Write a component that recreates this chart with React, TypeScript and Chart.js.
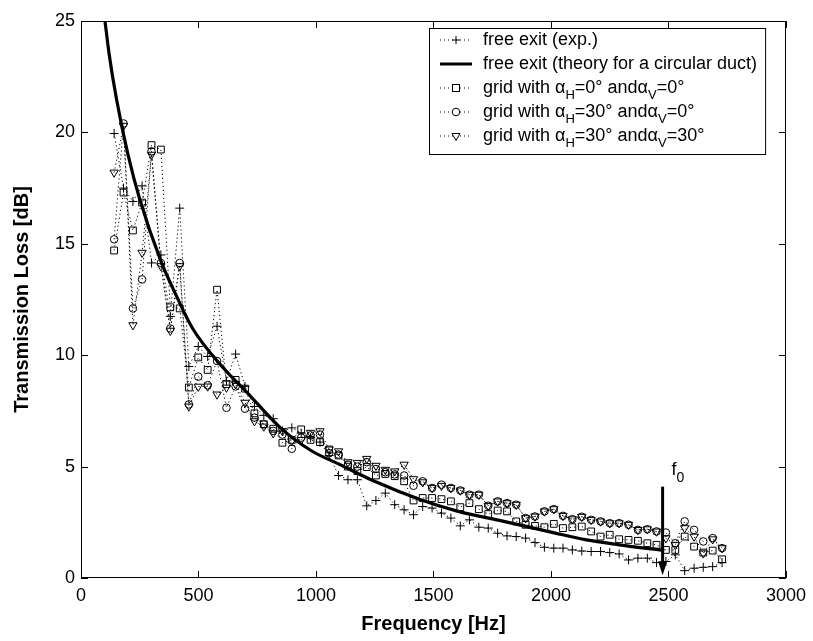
import React, { useEffect, useRef } from "react";
import { Chart, registerables } from "chart.js";
Chart.register(...registerables);

const freqs = [141,181,221,260,300,340,380,420,459,499,539,579,619,658,698,738,778,818,857,897,937,977,1017,1056,1096,1136,1176,1216,1255,1295,1335,1375,1415,1454,1494,1534,1574,1614,1653,1693,1733,1773,1813,1852,1892,1932,1972,2012,2051,2091,2131,2171,2211,2250,2290,2330,2370,2410,2449,2489,2529,2569,2609,2648,2688,2728];

const freeExitExp = [19.95,17.5,16.9,17.6,14.14,14.5,11.74,16.6,9.49,10.39,9.94,11.3,8.84,10.05,8.6,7.7,7.3,7.15,6.6,6.74,6.5,6.3,6.1,5.5,4.6,4.41,4.41,3.24,3.48,3.81,3.29,3.06,2.84,3.21,3.14,2.91,2.69,2.34,2.61,2.28,2.24,2.01,1.89,1.86,1.79,1.59,1.38,1.34,1.34,1.26,1.21,1.19,1.19,1.14,1.08,0.81,0.89,0.89,0.69,0.74,1.04,0.33,0.44,0.48,0.51,0.69];

const gridH0V0 = [14.7,17.3,15.6,16.85,19.43,19.23,12.15,12.1,8.55,9.9,9.34,12.94,8.7,8.89,8.5,7.39,6.9,6.7,6.07,6.2,6.67,6.2,6.1,5.77,5.5,5.0,4.8,4.98,4.6,4.67,4.57,4.34,3.48,3.59,3.59,3.54,3.44,3.18,3.36,3.09,2.87,3.03,2.99,2.54,2.39,2.34,2.28,2.43,2.24,2.28,2.31,2.09,1.86,1.94,1.74,1.71,1.67,1.56,1.49,1.26,1.26,1.86,1.41,1.14,1.23,0.84];

const gridH30V0 = [15.2,20.4,12.1,13.4,19.15,14.14,11.2,14.14,7.79,9.04,8.65,9.74,7.64,8.6,7.6,7.2,6.9,6.6,6.44,5.8,6.3,6.4,6.44,5.6,5.54,5.09,5.0,5.2,4.89,4.75,4.65,4.6,4.14,4.34,4.04,4.19,4.04,3.93,3.74,3.74,3.24,3.44,3.36,3.29,2.69,2.76,2.99,3.09,2.79,2.64,2.75,2.61,2.54,2.46,2.46,2.39,2.16,2.19,2.09,2.04,1.56,2.54,2.16,1.64,1.79,1.34];

const gridH30V30 = [18.2,20.3,11.35,14.6,19.0,14.0,11.1,14.0,7.7,8.59,8.6,8.24,8.55,8.7,7.87,7.04,6.8,6.5,6.6,6.14,6.2,6.52,6.59,5.77,5.69,5.2,5.17,5.35,5.04,4.86,4.79,5.09,4.44,4.3,4.04,4.14,4.04,3.93,3.74,3.74,3.24,3.44,3.36,3.29,2.69,2.76,2.99,3.09,2.79,2.64,2.75,2.61,2.54,2.46,2.46,2.39,2.16,2.19,2.09,1.79,1.49,2.24,1.86,1.11,1.74,1.34];

const theoryFreqs = [102,120,151,200,250,341,400,475,608,700,848,982,1100,1249,1446,1601,1799,2000,2151,2291,2482];
const theoryTL = [25,23.5,21.5,19.0,17.0,14.2,12.8,11.2,9.4,8.4,6.75,5.7,5.1,4.34,3.51,3.0,2.54,2.06,1.71,1.49,1.23];

const xTicks = [0,500,1000,1500,2000,2500,3000];
const yTicks = [0,5,10,15,20,25];
const f0Freq = 2475;
const f0Top = 4.1;
const f0Bottom = 0.12;

const FONT = "'Liberation Sans', Arial, Helvetica, sans-serif";

function pts(xs: number[], ys: number[]) {
  return xs.map((x, i) => ({ x, y: ys[i] }));
}

const frame = {
  id: "frame",
  afterDraw(chart: any) {
    const { ctx, chartArea: a, scales } = chart;
    const xs = scales.x, ys = scales.y;
    ctx.save();
    ctx.strokeStyle = "#000";
    ctx.lineWidth = 1;
    ctx.strokeRect(a.left + 0.5, a.top + 0.5, a.right - a.left - 1, a.bottom - a.top - 1);
    const tl = 7;
    ctx.beginPath();
    xTicks.forEach((v) => {
      const px = Math.round(xs.getPixelForValue(v)) + 0.5;
      ctx.moveTo(px, a.bottom); ctx.lineTo(px, a.bottom - tl);
      ctx.moveTo(px, a.top); ctx.lineTo(px, a.top + tl);
    });
    yTicks.forEach((v) => {
      const py = Math.round(ys.getPixelForValue(v)) + 0.5;
      ctx.moveTo(a.left, py); ctx.lineTo(a.left + tl, py);
      ctx.moveTo(a.right, py); ctx.lineTo(a.right - tl, py);
    });
    ctx.stroke();

    // f0 arrow
    const ax = xs.getPixelForValue(f0Freq);
    const ay1 = ys.getPixelForValue(f0Top);
    const ay2 = ys.getPixelForValue(f0Bottom);
    ctx.lineWidth = 3;
    ctx.beginPath();
    ctx.moveTo(ax, ay1); ctx.lineTo(ax, ay2 - 10);
    ctx.stroke();
    ctx.beginPath();
    ctx.moveTo(ax - 4.5, ay2 - 14); ctx.lineTo(ax + 4.5, ay2 - 14); ctx.lineTo(ax, ay2);
    ctx.closePath();
    ctx.fillStyle = "#000";
    ctx.fill();
    ctx.font = `18px ${FONT}`;
    ctx.textBaseline = "alphabetic";
    ctx.textAlign = "left";
    ctx.fillText("f", ax + 9, ay1 - 12);
    ctx.font = `14px ${FONT}`;
    ctx.fillText("0", ax + 14, ay1 - 5);

    // legend
    const lx = 429, ly = 28, rowH = 24, rows = 5;
    const textX = 483;
    const mainF = `18px ${FONT}`;
    const subF = `13px ${FONT}`;
    type Seg = { t: string; sub?: boolean };
    const labels: Seg[][] = [
      [{ t: "free exit (exp.)" }],
      [{ t: "free exit (theory for a circular duct)" }],
      [{ t: "grid with \u03b1" }, { t: "H", sub: true }, { t: "=0\u00b0 and\u03b1" }, { t: "V", sub: true }, { t: "=0\u00b0" }],
      [{ t: "grid with \u03b1" }, { t: "H", sub: true }, { t: "=30\u00b0 and\u03b1" }, { t: "V", sub: true }, { t: "=0\u00b0" }],
      [{ t: "grid with \u03b1" }, { t: "H", sub: true }, { t: "=30\u00b0 and\u03b1" }, { t: "V", sub: true }, { t: "=30\u00b0" }],
    ];
    let maxW = 0;
    labels.forEach((segs) => {
      let w = 0;
      segs.forEach((s) => { ctx.font = s.sub ? subF : mainF; w += ctx.measureText(s.t).width; });
      maxW = Math.max(maxW, w);
    });
    const lw = textX - lx + maxW + 8;
    const lh = rowH * rows + 6;
    ctx.fillStyle = "#fff";
    ctx.fillRect(lx, ly, lw, lh);
    ctx.lineWidth = 1;
    ctx.strokeStyle = "#000";
    ctx.strokeRect(lx + 0.5, ly + 0.5, lw, lh);
    labels.forEach((segs, i) => {
      const cy = ly + 12 + rowH * i;
      ctx.save();
      if (i === 1) {
        ctx.lineWidth = 3; ctx.setLineDash([]);
      } else {
        ctx.lineWidth = 1; ctx.setLineDash([1, 3]);
      }
      ctx.beginPath(); ctx.moveTo(440, cy); ctx.lineTo(472, cy); ctx.stroke();
      ctx.restore();
      ctx.lineWidth = 1;
      ctx.setLineDash([]);
      const mx = 456;
      ctx.beginPath();
      if (i === 0) {
        ctx.moveTo(mx - 4, cy); ctx.lineTo(mx + 4, cy); ctx.moveTo(mx, cy - 4); ctx.lineTo(mx, cy + 4);
        ctx.stroke();
      } else if (i === 2) {
        ctx.fillStyle = "#fff"; ctx.fillRect(mx - 3.5, cy - 3.5, 7, 7); ctx.strokeRect(mx - 3.5, cy - 3.5, 7, 7);
      } else if (i === 3) {
        ctx.fillStyle = "#fff"; ctx.arc(mx, cy, 3.8, 0, Math.PI * 2); ctx.fill(); ctx.stroke();
      } else if (i === 4) {
        ctx.fillStyle = "#fff";
        ctx.moveTo(mx - 4, cy - 2.5); ctx.lineTo(mx + 4, cy - 2.5); ctx.lineTo(mx, cy + 4.5); ctx.closePath(); ctx.fill(); ctx.stroke();
      }
      let x = textX;
      ctx.fillStyle = "#000";
      ctx.textAlign = "left";
      ctx.textBaseline = "middle";
      segs.forEach((s) => {
        ctx.font = s.sub ? subF : mainF;
        ctx.fillText(s.t, x, s.sub ? cy + 7 : cy);
        x += ctx.measureText(s.t).width;
      });
    });
    ctx.restore();
  },
};

const dotted = [1.2, 2.8];

export default function App() {
  const ref = useRef<HTMLCanvasElement | null>(null);
  useEffect(() => {
    document.body.style.margin = "0";
    const c = ref.current!;
    const chart = new Chart(c, {
      type: "scatter",
      data: {
        datasets: [
          {
            label: "free exit (theory for a circular duct)",
            data: pts(theoryFreqs, theoryTL),
            showLine: true,
            borderColor: "#000",
            borderWidth: 3.2,
            pointRadius: 0,
            cubicInterpolationMode: "monotone",
            order: 0,
          } as any,
          {
            label: "free exit (exp.)",
            data: pts(freqs, freeExitExp),
            showLine: true,
            borderColor: "#000",
            borderWidth: 1,
            borderDash: dotted,
            pointStyle: "cross",
            pointRadius: 4.5,
            pointBorderWidth: 1,
            pointBorderColor: "#000",
            order: 1,
          },
          {
            label: "grid with aH=0 and aV=0",
            data: pts(freqs, gridH0V0),
            showLine: true,
            borderColor: "#000",
            borderWidth: 1,
            borderDash: dotted,
            pointStyle: "rect",
            pointRadius: 4.8,
            pointBorderWidth: 1,
            pointBorderColor: "#000",
            pointBackgroundColor: "rgba(0,0,0,0)",
            order: 2,
          },
          {
            label: "grid with aH=30 and aV=0",
            data: pts(freqs, gridH30V0),
            showLine: true,
            borderColor: "#000",
            borderWidth: 1,
            borderDash: dotted,
            pointStyle: "circle",
            pointRadius: 3.8,
            pointBorderWidth: 1,
            pointBorderColor: "#000",
            pointBackgroundColor: "rgba(0,0,0,0)",
            order: 3,
          },
          {
            label: "grid with aH=30 and aV=30",
            data: pts(freqs, gridH30V30),
            showLine: true,
            borderColor: "#000",
            borderWidth: 1,
            borderDash: dotted,
            pointStyle: "triangle",
            rotation: 180,
            pointRadius: 4.8,
            pointBorderWidth: 1,
            pointBorderColor: "#000",
            pointBackgroundColor: "rgba(0,0,0,0)",
            order: 4,
          } as any,
        ],
      },
      options: {
        animation: false,
        responsive: true,
        maintainAspectRatio: false,
        layout: { padding: { top: 21, right: 22, left: 0, bottom: 0 } },
        plugins: { legend: { display: false }, tooltip: { enabled: false } },
        scales: {
          x: {
            type: "linear",
            min: 0,
            max: 3000,
            afterFit: (s: any) => { s.height = 63; },
            afterBuildTicks: (s: any) => { s.ticks = xTicks.map((v) => ({ value: v })); },
            ticks: { color: "#000", font: { size: 18, family: FONT }, padding: 7, maxRotation: 0, callback: (v: any) => String(v) },
            grid: { display: false, drawTicks: false },
            border: { display: false },
            title: { display: true, text: "Frequency [Hz]", color: "#000", font: { size: 20, weight: "bold", family: FONT }, padding: { top: 0, bottom: 5 } },
          },
          y: {
            type: "linear",
            min: 0,
            max: 25,
            afterFit: (s: any) => { s.width = 81; },
            afterBuildTicks: (s: any) => { s.ticks = yTicks.map((v) => ({ value: v })); },
            ticks: { color: "#000", font: { size: 18, family: FONT }, padding: 6, callback: (v: any) => String(v) },
            grid: { display: false, drawTicks: false },
            border: { display: false },
            title: { display: true, text: "Transmission Loss [dB]", color: "#000", font: { size: 20, weight: "bold", family: FONT }, padding: { top: 10, bottom: 0 } },
          },
        },
      },
      plugins: [frame],
    } as any);
    return () => chart.destroy();
  }, []);
  return (
    <div style={{ width: 813, height: 641, position: "relative", background: "#fff" }}>
      <canvas ref={ref} />
    </div>
  );
}
